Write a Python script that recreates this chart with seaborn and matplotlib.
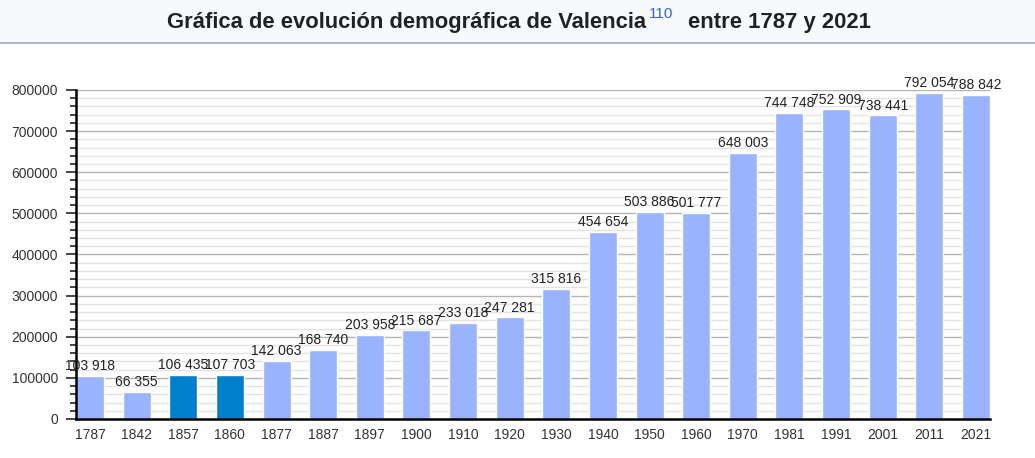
import matplotlib
matplotlib.use("Agg")
import matplotlib.pyplot as plt
import seaborn as sns
from matplotlib.patches import Rectangle
from matplotlib.lines import Line2D
from matplotlib.ticker import MultipleLocator

# Datos: población de Valencia por año de censo
years = ["1787", "1842", "1857", "1860", "1877", "1887", "1897", "1900", "1910", "1920",
         "1930", "1940", "1950", "1960", "1970", "1981", "1991", "2001", "2011", "2021"]
population = [103918, 66355, 106435, 107703, 142063, 168740, 203958, 215687, 233018, 247281,
              315816, 454654, 503886, 501777, 648003, 744748, 752909, 738441, 792054, 788842]
highlight = ["1857", "1860"]

light = "#99b3ff"
dark = "#0080cc"
bar_colors = [dark if y in highlight else light for y in years]

sns.set_style("white")
plt.rcParams["font.family"] = ["Liberation Sans", "DejaVu Sans"]

W, H = 1035, 458
fig = plt.figure(figsize=(W / 100, H / 100), dpi=100)

# banda del título
fig.patches.append(Rectangle((0, 1 - 42 / H), 1, 42 / H, transform=fig.transFigure,
                             facecolor="#f8f9fa", edgecolor="none", zorder=0))
fig.lines.append(Line2D([0, 1], [1 - 42.5 / H] * 2, transform=fig.transFigure,
                        color="#a2a9b1", lw=1.2))

# título en tres trozos (con superíndice azul)
renderer = fig.canvas.get_renderer()
t1 = fig.text(167 / W, 1 - 28 / H, "Gráfica de evolución demográfica de Valencia",
              fontsize=15.8, fontweight="bold", color="#202122", va="baseline")
x1 = t1.get_window_extent(renderer).x1
sup = fig.text((x1 + 3) / W, 1 - 18 / H, "110", fontsize=11, color="#3366cc", va="baseline")
x2 = sup.get_window_extent(renderer).x1
fig.text((x2 + 14) / W, 1 - 28 / H, "entre 1787 y 2021", fontsize=15.8, fontweight="bold",
         color="#202122", va="baseline")

ax = fig.add_axes([76 / W, 39 / H, 914 / W, 329 / H])
sns.barplot(x=years, y=population, hue=years, palette=bar_colors, legend=False,
            width=0.6, saturation=1, ax=ax)

for i, v in enumerate(population):
    ax.annotate(f"{v:,}".replace(",", " "), (i, v), xytext=(0, 2), textcoords="offset points",
                ha="center", va="bottom", fontsize=10, color="#222222", clip_on=False)

ax.set_xlim(-0.3, len(years) - 0.7)
ax.set_ylim(0, 800000)
ax.yaxis.set_major_locator(MultipleLocator(100000))
ax.yaxis.set_minor_locator(MultipleLocator(20000))
ax.set_yticks(range(0, 800001, 100000), [str(t) for t in range(0, 800001, 100000)])
ax.grid(axis="y", which="major", color="#b4b4b4", lw=1)
ax.grid(axis="y", which="minor", color="#e3e3e3", lw=1)
ax.set_axisbelow(True)

for s in ["top", "right"]:
    ax.spines[s].set_visible(False)
for s in ["left", "bottom"]:
    ax.spines[s].set_color("black")
    ax.spines[s].set_linewidth(1.8)

ax.tick_params(axis="y", which="major", left=True, length=7, width=1.2, labelsize=10,
               labelcolor="#333333", pad=6)
ax.tick_params(axis="y", which="minor", left=True, length=4, width=1.2)
ax.tick_params(axis="x", bottom=False, labelsize=10, labelcolor="#333333", pad=3)
ax.set_xlabel("")
ax.set_ylabel("")

fig.savefig("out.png", dpi=100)
